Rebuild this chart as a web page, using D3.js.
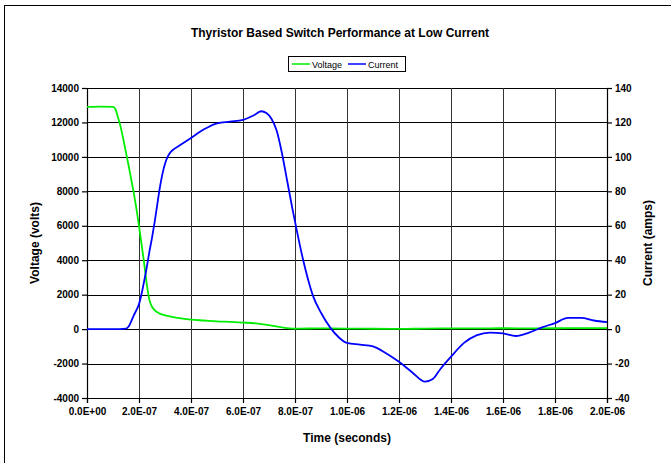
<!DOCTYPE html>
<html>
<head>
<meta charset="utf-8">
<script src="https://cdn.jsdelivr.net/npm/d3@7"></script>
<style>
  body { margin: 0; background: #fff; }
  svg { font-family: Arial, "Liberation Sans", sans-serif; }
  .tick text { font-weight: bold; font-size: 10px; fill: #000; }
</style>
</head>
<body>
<svg id="chart" width="671" height="463"></svg>
<script>
// time in seconds
const voltageTime = [0, 0.5e-7, 1.0e-7, 1.1e-7, 1.2e-7, 1.3e-7, 1.4e-7, 1.5e-7, 1.6e-7, 1.7e-7, 1.8e-7,
  1.9e-7, 2.0e-7, 2.1e-7, 2.2e-7, 2.3e-7, 2.4e-7, 2.5e-7, 2.6e-7, 2.8e-7, 3.0e-7, 3.5e-7, 4.0e-7,
  4.5e-7, 5.0e-7, 5.5e-7, 6.0e-7, 6.5e-7, 7.0e-7, 7.5e-7, 8.0e-7, 9.0e-7, 1.0e-6, 1.1e-6, 1.2e-6,
  1.3e-6, 1.4e-6, 1.5e-6, 1.6e-6, 1.7e-6, 1.8e-6, 1.9e-6, 2.0e-6]
const voltage = [12900, 12920, 12900, 12750, 12250, 11700, 11000, 10250, 9500, 8700, 7900,
  7000, 6000, 4900, 3800, 2600, 1700, 1300, 1100, 900, 800, 650, 550,
  500, 450, 420, 380, 330, 230, 100, 30, 40, 30, 20, 10,
  30, 40, 40, 50, 40, 50, 60, 60]

const currentTime = [0, 0.5e-7, 1.0e-7, 1.5e-7, 1.6e-7, 1.7e-7, 1.8e-7, 1.9e-7, 2.0e-7, 2.1e-7, 2.2e-7,
  2.3e-7, 2.4e-7, 2.5e-7, 2.6e-7, 2.7e-7, 2.8e-7, 2.9e-7, 3.0e-7, 3.1e-7, 3.2e-7, 3.3e-7, 3.6e-7,
  4.0e-7, 4.5e-7, 5.0e-7, 5.5e-7, 6.0e-7, 6.4e-7, 6.7e-7, 6.9e-7, 7.1e-7,
  7.3e-7, 7.5e-7, 7.7e-7, 7.9e-7, 8.1e-7, 8.3e-7, 8.5e-7, 8.7e-7, 9.0e-7, 9.35e-7, 9.7e-7,
  1.0e-6, 1.05e-6, 1.1e-6, 1.15e-6, 1.2e-6, 1.25e-6, 1.3e-6, 1.33e-6, 1.36e-6, 1.4e-6, 1.45e-6,
  1.5e-6, 1.55e-6, 1.6e-6, 1.65e-6, 1.7e-6, 1.75e-6, 1.8e-6, 1.85e-6, 1.9e-6, 1.95e-6, 2.0e-6]
const current = [0, 0, 0, 0.3, 1.5, 4.5, 8, 11, 14.5, 20.5, 28,
  36, 45, 53, 62, 72, 82, 90, 96, 100, 102.5, 104, 107,
  111, 116, 119.5, 120.5, 121.5, 124, 126.5, 125.5, 122,
  115, 102, 86, 70, 55, 41, 29, 19, 9.5, 1, -5,
  -8, -9, -10, -14, -19, -25, -30.5, -29, -23, -16, -8,
  -3.5, -2, -2.5, -4, -2, 1, 3.5, 6.5, 6.5, 5, 4]

const xTicks = [0, 2e-7, 4e-7, 6e-7, 8e-7, 1e-6, 1.2e-6, 1.4e-6, 1.6e-6, 1.8e-6, 2e-6]
const voltTicks = [-4000, -2000, 0, 2000, 4000, 6000, 8000, 10000, 12000, 14000]
const ampTicks = [-40, -20, 0, 20, 40, 60, 80, 100, 120, 140]

const svg = d3.select('#chart')
const plot = {left: 87, right: 607, top: 88, bottom: 398}

// outer chart frame
svg.append('rect')
  .attr('x', 4.5).attr('y', 5.5).attr('width', 700).attr('height', 500)
  .attr('fill', '#fff').attr('stroke', '#000').attr('stroke-width', 1)

const x = d3.scaleLinear().domain([0, 2e-6]).range([plot.left, plot.right])
const yV = d3.scaleLinear().domain([-4000, 14000]).range([plot.bottom, plot.top])
const yA = d3.scaleLinear().domain([-40, 140]).range([plot.bottom, plot.top])

// exponent format like 2.0E-07, plain hyphen for negatives
const sci = v => {
  if (v === 0) return '0.0E+00'
  const e = Math.floor(Math.log10(Math.abs(v)) + 1e-9)
  const m = (v / Math.pow(10, e)).toFixed(1)
  return m + 'E' + (e < 0 ? '-' : '+') + String(Math.abs(e)).padStart(2, '0')
}
const plain = v => String(v)

// grid
const grid = svg.append('g')
grid.selectAll('.hg').data(voltTicks).join('line')
  .attr('x1', plot.left).attr('x2', plot.right)
  .attr('y1', d => Math.round(yV(d)) + 0.5).attr('y2', d => Math.round(yV(d)) + 0.5)
  .attr('stroke', '#000').attr('stroke-width', 1)
grid.selectAll('.vg').data(xTicks).join('line')
  .attr('y1', plot.top).attr('y2', plot.bottom)
  .attr('x1', d => Math.round(x(d)) + 0.5).attr('x2', d => Math.round(x(d)) + 0.5)
  .attr('stroke', '#333').attr('stroke-width', 1)

// axes
const xAxis = svg.append('g').attr('transform', `translate(0,${plot.bottom})`)
  .call(d3.axisBottom(x).tickValues(xTicks).tickFormat(sci).tickSize(5).tickPadding(5))
const leftAxis = svg.append('g').attr('transform', `translate(${plot.left},0)`)
  .call(d3.axisLeft(yV).tickValues(voltTicks).tickFormat(plain).tickSize(5).tickPadding(3))
const rightAxis = svg.append('g').attr('transform', `translate(${plot.right},0)`)
  .call(d3.axisRight(yA).tickValues(ampTicks).tickFormat(plain).tickSize(5).tickPadding(3))
;[xAxis, leftAxis, rightAxis].forEach(a => {
  a.attr('font-family', 'Arial, "Liberation Sans", sans-serif')
  a.selectAll('path, line').attr('stroke', '#000').attr('stroke-width', 1.2)
})

// series
const vLine = d3.line().x((d, i) => x(voltageTime[i])).y(d => yV(d)).curve(d3.curveMonotoneX)
const aLine = d3.line().x((d, i) => x(currentTime[i])).y(d => yA(d)).curve(d3.curveMonotoneX)
svg.append('path').datum(voltage).attr('d', vLine)
  .attr('fill', 'none').attr('stroke', '#00ee00').attr('stroke-width', 1.8)
svg.append('path').datum(current).attr('d', aLine)
  .attr('fill', 'none').attr('stroke', '#0000ff').attr('stroke-width', 1.8)

// titles
svg.append('text').attr('x', 340).attr('y', 37).attr('text-anchor', 'middle')
  .attr('font-size', 12).attr('font-weight', 'bold').text('Thyristor Based Switch Performance at Low Current')
svg.append('text').attr('x', 347).attr('y', 442).attr('text-anchor', 'middle')
  .attr('font-size', 12).attr('font-weight', 'bold').text('Time (seconds)')
svg.append('text').attr('transform', `translate(39,243) rotate(-90)`).attr('text-anchor', 'middle')
  .attr('font-size', 12).attr('font-weight', 'bold').text('Voltage (volts)')
svg.append('text').attr('transform', `translate(652,243) rotate(-90)`).attr('text-anchor', 'middle')
  .attr('font-size', 12).attr('font-weight', 'bold').text('Current (amps)')

// legend
const legend = svg.append('g').attr('transform', 'translate(288,56)')
legend.append('rect').attr('x', 0.5).attr('y', 0.5).attr('width', 117).attr('height', 15)
  .attr('fill', '#fff').attr('stroke', '#000')
const items = [{name: 'Voltage', color: '#00ee00', x: 4}, {name: 'Current', color: '#0000ff', x: 60}]
items.forEach(it => {
  legend.append('line').attr('x1', it.x).attr('x2', it.x + 18).attr('y1', 8).attr('y2', 8)
    .attr('stroke', it.color).attr('stroke-width', 1.5)
  legend.append('text').attr('x', it.x + 20).attr('y', 11.5).attr('font-size', 9).text(it.name)
})
</script>
</body>
</html>
